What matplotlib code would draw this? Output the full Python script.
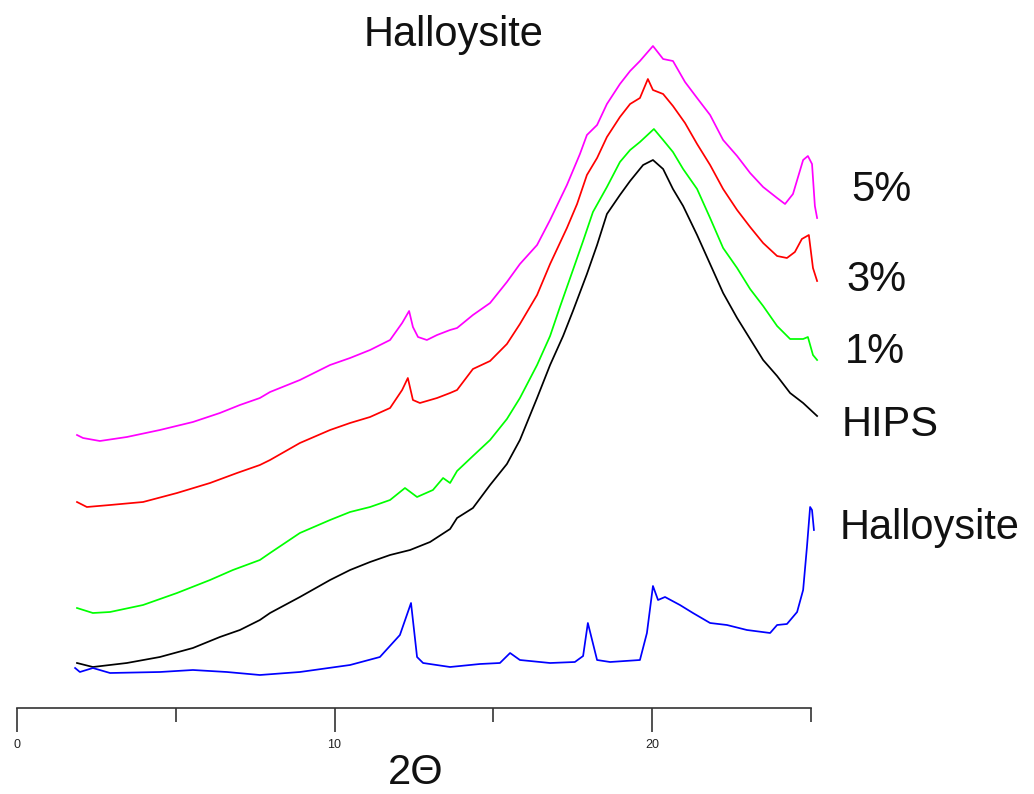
import numpy as np
import matplotlib
matplotlib.use('Agg')
import matplotlib.pyplot as plt
from matplotlib.ticker import FixedLocator

plt.rcParams['font.family'] = ['Liberation Sans', 'DejaVu Sans']

# 2-theta (deg) and intensity (arb. units)
x_5 = [1.89, 2.08, 2.61, 3.46, 4.50, 5.54, 6.39, 7.02, 7.65, 7.97, 8.91, 9.86, 10.49, 11.12,
       11.75, 12.13, 12.35, 12.47, 12.63, 12.91, 13.23, 13.64, 13.86, 14.36, 14.90, 15.43,
       15.84, 16.38, 16.79, 17.32, 17.73, 17.95, 18.27, 18.58, 18.99, 19.31, 19.62, 20.03,
       20.35, 20.66, 21.04, 21.42, 21.83, 22.24, 22.68, 23.09, 23.50, 23.94, 24.19, 24.44,
       24.76, 24.91, 25.04, 25.13, 25.20]
y_5 = [273, 270, 267, 271, 278, 286, 295, 303, 310, 316, 328, 343, 350, 358,
       368, 385, 397, 381, 371, 368, 373, 378, 380, 393, 405, 426,
       444, 463, 488, 523, 554, 573, 583, 604, 624, 637, 647, 662,
       649, 647, 626, 610, 593, 568, 552, 535, 521, 510, 504, 514,
       548, 552, 544, 502, 490]

x_3 = [1.89, 2.20, 2.93, 3.97, 5.04, 6.08, 6.93, 7.65, 7.97, 8.91, 9.86, 10.49, 11.12,
       11.75, 12.13, 12.31, 12.47, 12.69, 13.23, 13.64, 13.86, 14.36, 14.90, 15.43, 15.84,
       16.38, 16.79, 17.32, 17.64, 17.95, 18.27, 18.58, 18.99, 19.31, 19.62, 19.87, 20.03,
       20.35, 20.66, 21.04, 21.42, 21.83, 22.24, 22.68, 23.09, 23.50, 23.94, 24.25, 24.50,
       24.72, 24.94, 25.07, 25.20]
y_3 = [206, 201, 203, 206, 215, 225, 235, 243, 248, 265, 278, 285, 291,
       300, 318, 330, 308, 305, 310, 315, 318, 339, 347, 364, 384,
       413, 444, 480, 504, 533, 550, 571, 591, 604, 610, 629, 618,
       614, 602, 585, 564, 543, 519, 498, 481, 465, 452, 450, 456,
       469, 473, 440, 427]

x_1 = [1.89, 2.39, 2.93, 3.97, 5.04, 6.08, 6.80, 7.65, 7.97, 8.91, 9.86, 10.49, 11.12,
       11.75, 12.22, 12.60, 13.10, 13.42, 13.64, 13.86, 14.36, 14.90, 15.43, 15.84, 16.38,
       16.79, 17.10, 17.51, 17.83, 18.14, 18.58, 18.99, 19.31, 19.62, 20.06, 20.35, 20.66,
       20.98, 21.42, 21.83, 22.24, 22.68, 23.09, 23.50, 23.94, 24.35, 24.76, 24.91, 25.07,
       25.20]
y_1 = [100, 95, 96, 103, 115, 128, 138, 148, 155, 175, 188, 196, 201,
       208, 220, 211, 218, 230, 225, 237, 252, 268, 289, 310, 343,
       372, 401, 438, 467, 496, 521, 546, 558, 566, 579, 568, 556,
       539, 519, 490, 460, 440, 419, 402, 382, 369, 369, 371, 353,
       348]

x_hips = [1.89, 2.39, 3.46, 4.50, 5.54, 6.39, 7.02, 7.65, 7.97, 8.91, 9.86, 10.49, 11.12,
          11.75, 12.38, 13.01, 13.64, 13.86, 14.36, 14.90, 15.43, 15.84, 16.38, 16.79, 17.20,
          17.51, 17.95, 18.27, 18.58, 18.99, 19.31, 19.72, 20.03, 20.35, 20.66, 20.98, 21.42,
          21.83, 22.24, 22.68, 23.09, 23.50, 23.94, 24.35, 24.76, 25.20]
y_hips = [45, 41, 45, 51, 60, 71, 78, 88, 95, 111, 128, 138, 146,
          153, 158, 166, 179, 190, 200, 223, 244, 268, 310, 343, 372,
          397, 434, 463, 494, 513, 527, 543, 548, 539, 519, 502, 473,
          444, 415, 390, 369, 348, 332, 315, 305, 292]

x_hal = [1.83, 1.98, 2.39, 2.93, 4.50, 5.54, 6.61, 7.65, 8.91, 10.49, 11.43, 12.06, 12.41,
         12.60, 12.79, 13.64, 14.58, 15.21, 15.53, 15.84, 16.79, 17.57, 17.83, 17.98, 18.27,
         18.68, 19.62, 19.84, 20.03, 20.19, 20.41, 20.88, 21.29, 21.83, 22.36, 22.99, 23.72,
         23.94, 24.25, 24.57, 24.76, 24.88, 24.98, 25.04, 25.10]
y_hal = [40, 36, 40, 35, 36, 38, 36, 33, 36, 43, 51, 73, 105,
         51, 45, 41, 44, 45, 55, 48, 45, 46, 52, 85, 48,
         46, 48, 75, 122, 108, 111, 103, 95, 85, 83, 78, 75,
         83, 84, 96, 118, 161, 201, 198, 178]

series = [
    (x_5, y_5, '#ff00ff'),
    (x_3, y_3, '#ff0000'),
    (x_1, y_1, '#00ff00'),
    (x_hips, y_hips, '#000000'),
    (x_hal, y_hal, '#0000ff'),
]

W, H = 1034, 794
fig = plt.figure(figsize=(W / 100, H / 100), dpi=100)
ax = fig.add_axes([17 / W, 86 / H, (W - 17) / W, 708 / H])

for xs, ys, c in series:
    ax.plot(xs, ys, color=c, lw=1.25)

ax.set_xlim(0, (W - 17) / 31.75)
ax.set_ylim(0, 708)

for s in ['left', 'right', 'top']:
    ax.spines[s].set_visible(False)
ax.spines['bottom'].set_bounds(0, 25)
ax.spines['bottom'].set_color('#333333')
ax.spines['bottom'].set_linewidth(1.2)

ax.xaxis.set_major_locator(FixedLocator([0, 10, 20]))
ax.xaxis.set_minor_locator(FixedLocator([5, 15, 25]))
ax.tick_params(axis='x', which='major', length=17, width=1.2, color='#333333',
               labelsize=9, pad=5, labelcolor='#222222')
ax.tick_params(axis='x', which='minor', length=10, width=1.2, color='#333333')
ax.set_yticks([])

# labels
def put(px, py, s):
    fig.text(px / W, 1 - py / H, s, fontsize=30, ha='center', va='center', color='#111111')

put(454, 35, 'Halloysite')
put(881, 190, '5%')
put(877, 280, '3%')
put(875, 352, '1%')
put(890, 425, 'HIPS')
put(930, 528, 'Halloysite')
put(416, 773, '2Θ')

fig.savefig('out.png', dpi=100)
